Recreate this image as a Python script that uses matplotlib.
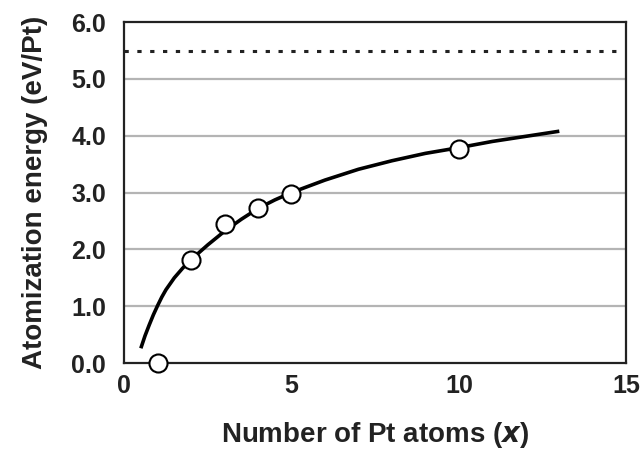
import numpy as np
import matplotlib.pyplot as plt

# Data
atoms = [1, 2, 3, 4, 5, 10]
energy = [0.0, 1.81, 2.45, 2.73, 2.98, 3.76]

curve_x = [0.5, 0.625, 0.75, 0.875, 1.0, 1.125, 1.25, 1.5, 1.75, 2.0, 2.5, 3.0, 3.5, 4.0,
           4.5, 5.0, 6.0, 7.0, 8.0, 9.0, 10.0, 11.0, 12.0, 13.0]
curve_y = [0.26, 0.48, 0.67, 0.85, 1.01, 1.16, 1.29, 1.50, 1.67, 1.82, 2.08, 2.32, 2.53, 2.72,
           2.87, 3.00, 3.22, 3.41, 3.56, 3.69, 3.79, 3.90, 3.99, 4.08]

bulk_energy = 5.5

x_ticks = [0, 5, 10, 15]
y_ticks = [0.0, 1.0, 2.0, 3.0, 4.0, 5.0, 6.0]

plt.rcParams['font.family'] = ['Liberation Sans', 'DejaVu Sans']

fig = plt.figure(figsize=(6.43, 4.51), dpi=100)
ax = fig.add_axes([0.193, 0.195, 0.781, 0.756])

for yv in y_ticks[1:-1]:
    ax.axhline(yv, color='#b4b4b4', lw=1.6, zorder=1)
ax.axhline(bulk_energy, color='#222222', lw=2.2, linestyle=(0, (1.4, 2.8)), zorder=2)

ax.plot(curve_x, curve_y, color='black', lw=2.6, solid_capstyle='butt', zorder=3)
ax.plot(atoms, energy, 'o', ms=13, mfc='white', mec='black', mew=1.5,
        clip_on=False, zorder=4)

ax.set_xlim(0, 15)
ax.set_ylim(0, 6)
ax.set_xticks(x_ticks)
ax.set_yticks(y_ticks)
ax.set_yticklabels([f"{v:.1f}" for v in y_ticks])
ax.tick_params(length=0, labelsize=18)
ax.tick_params(axis='y', pad=13)
ax.tick_params(axis='x', pad=8)
for lab in ax.get_xticklabels() + ax.get_yticklabels():
    lab.set_fontweight('bold')
    lab.set_color('#222222')

for sp in ax.spines.values():
    sp.set_linewidth(1.6)
    sp.set_color('#222222')

ax.set_xlabel("Number of Pt atoms ($\\mathbfit{x}$)", fontsize=20, fontweight='bold',
              labelpad=16, color='#222222')
ax.set_ylabel("Atomization energy (eV/Pt)", fontsize=20, fontweight='bold',
              labelpad=17, color='#222222')

fig.savefig("out.png", dpi=100)
